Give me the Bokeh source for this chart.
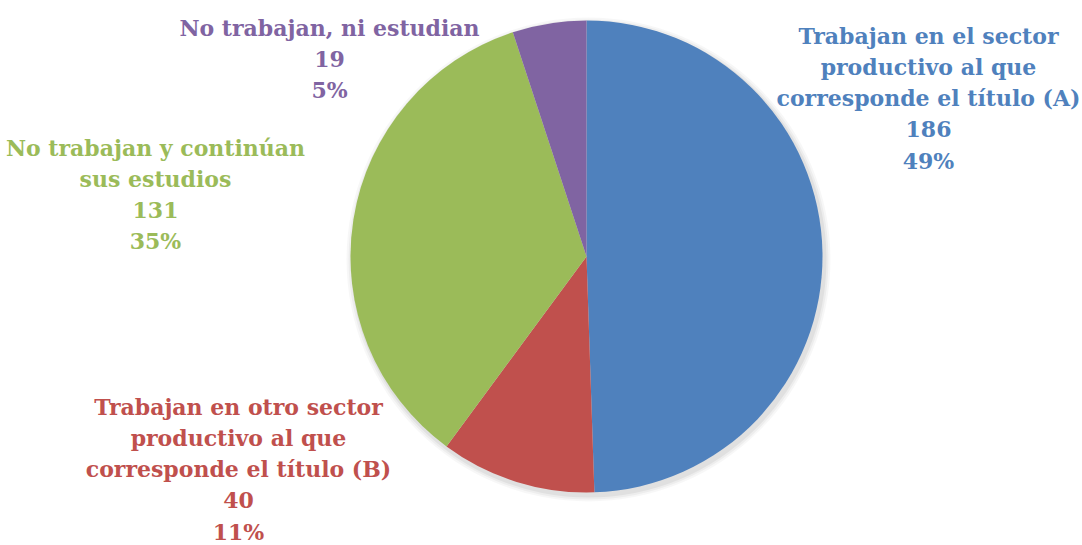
import math
from bokeh.plotting import figure
from bokeh.models import Range1d, ColumnDataSource
from bokeh.embed import file_html
from bokeh.resources import INLINE
from bokeh.core.properties import value

# ---- data ----
categories = [
    "Trabajan en el sector productivo al que corresponde el título (A)",
    "Trabajan en otro sector productivo al que corresponde el título (B)",
    "No trabajan y continúan sus estudios",
    "No trabajan, ni estudian",
]
category_lines = [
    ["Trabajan en el sector", "productivo al que", "corresponde el título (A)"],
    ["Trabajan en otro sector", "productivo al que", "corresponde el título (B)"],
    ["No trabajan y continúan", "sus estudios"],
    ["No trabajan, ni estudian"],
]
counts = [186, 40, 131, 19]
colors = ["#4F81BD", "#C0504D", "#9BBB59", "#8064A2"]

# ---- layout (page pixel coords -> figure coords) ----
W, H = 1082, 545
def fx(px):
    return px
def fy(py):
    return H - py

cx, cy, R = fx(586), fy(256), 236
label_anchor = [(928, 35), (238, 406), (155, 147), (329, 27)]  # centre x, first baseline y (page)
line_h = 31.25
FONT = "DejaVu Serif"
FSIZE = "22px"

total = sum(counts)
starts, ends = [], []
cum = 0
for c in counts:
    starts.append(math.pi / 2 - 2 * math.pi * cum / total)
    cum += c
    ends.append(math.pi / 2 - 2 * math.pi * cum / total)

p = figure(width=W, height=H, x_range=Range1d(0, W), y_range=Range1d(0, H),
           x_axis_type=None, y_axis_type=None, toolbar_location=None,
           output_backend="svg", min_border=0)
p.grid.visible = False
p.outline_line_color = None
p.background_fill_color = "white"

# soft shadow
for k, a in [(6, 0.03), (4, 0.04), (2, 0.05)]:
    p.circle(x=cx + 2, y=cy - 3, radius=R + k, fill_color="black", fill_alpha=a, line_color=None)

src = ColumnDataSource(dict(start=starts, end=ends, color=colors, cat=categories))
p.wedge(x=cx, y=cy, radius=R, start_angle="start", end_angle="end",
        direction="clock", fill_color="color", line_color=None, source=src)

xs, ys, txt, tcol = [], [], [], []
for i in range(len(counts)):
    lines = category_lines[i] + [str(counts[i]), f"{round(100 * counts[i] / total)}%"]
    ax, ay = label_anchor[i]
    for j, t in enumerate(lines):
        xs.append(fx(ax))
        ys.append(fy(ay + j * line_h))
        txt.append(t)
        tcol.append(colors[i])

p.text(x=xs, y=ys, text=txt, text_color=tcol, text_align="center",
       text_baseline="alphabetic", text_font=value(FONT), text_font_size=FSIZE,
       text_font_style="bold")

open("out.html", "w").write(file_html(p, INLINE))
